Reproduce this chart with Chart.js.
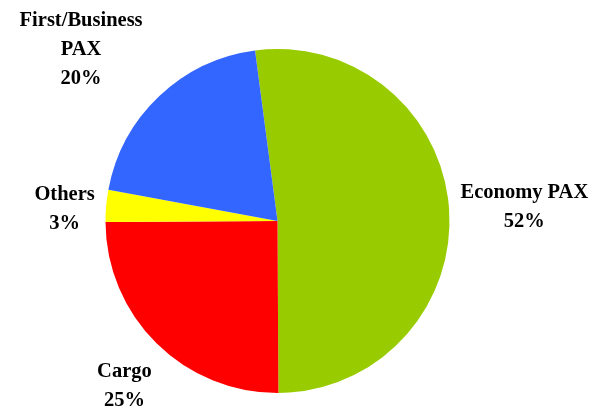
<!DOCTYPE html>
<html>
<head>
<meta charset="utf-8">
<script src="https://cdn.jsdelivr.net/npm/chart.js@4/dist/chart.umd.min.js"></script>
<style>
  html, body { margin: 0; padding: 0; background: #fff; }
  #wrap { width: 593px; height: 412px; position: relative; }
</style>
</head>
<body>
<div id="wrap"><canvas id="pie"></canvas></div>
<script>
// Revenue split
const categories = ['Economy PAX', 'Cargo', 'Others', 'First/Business PAX'];
const shares = [52, 25, 3, 20];
const sliceColors = ['#99CC00', '#FF0000', '#FFFF00', '#3366FF'];

// label text lines + placement (offset from pie centre, in radius units)
const labelLines = [['Economy PAX'], ['Cargo'], ['Others'], ['First/Business', 'PAX']];
const labelOffsets = [[1.435, -0.08], [-0.89, 0.96], [-1.238, -0.07], [-1.142, -0.995]];

const pieLabels = {
  id: 'pieLabels',
  afterDraw(chart) {
    const ctx = chart.ctx;
    const meta = chart.getDatasetMeta(0);
    const total = shares.reduce((a, b) => a + b, 0);
    ctx.save();
    ctx.fillStyle = '#000';
    ctx.font = 'bold 20.5px "Liberation Serif", "Times New Roman", serif';
    ctx.textAlign = 'center';
    ctx.textBaseline = 'middle';
    meta.data.forEach((arc, i) => {
      const r = arc.outerRadius;
      const lines = labelLines[i].concat([Math.round(shares[i] / total * 100) + '%']);
      const cx = arc.x + labelOffsets[i][0] * r;
      const cy = arc.y + labelOffsets[i][1] * r;
      const lh = 29;
      const y0 = cy - (lines.length - 1) * lh / 2;
      lines.forEach((t, k) => ctx.fillText(t, cx, y0 + k * lh));
    });
    ctx.restore();
  }
};

new Chart(document.getElementById('pie'), {
  type: 'pie',
  data: {
    labels: categories,
    datasets: [{
      data: shares,
      backgroundColor: sliceColors,
      borderWidth: 0
    }]
  },
  options: {
    responsive: true,
    maintainAspectRatio: false,
    animation: false,
    rotation: -7.5,
    layout: { padding: { top: 49, bottom: 19, left: 105, right: 143 } },
    plugins: {
      legend: { display: false },
      tooltip: { enabled: false }
    }
  },
  plugins: [pieLabels]
});
</script>
</body>
</html>
